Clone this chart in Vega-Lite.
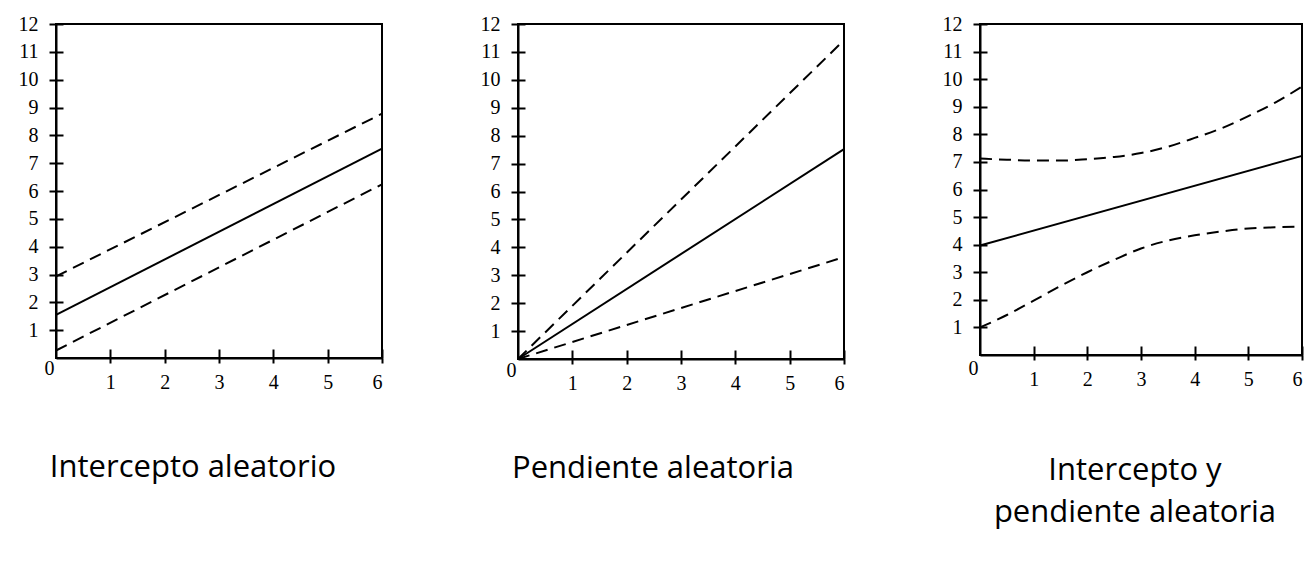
{
  "$schema": "https://vega.github.io/schema/vega-lite/v6.json",
  "padding": {"left": 17, "top": 13, "right": 5, "bottom": 5},
  "background": "white",
  "spacing": 92,
  "config": {
    "view": {"stroke": "black", "strokeWidth": 2},
    "axis": {"labelFont": "Liberation Serif", "labelFontSize": 20, "labelColor": "black", "domainColor": "black", "domainWidth": 2, "tickColor": "black", "tickWidth": 2, "grid": false, "title": null},
    "title": {"font": "Open Sans", "fontSize": 31, "fontWeight": "normal", "color": "black", "orient": "bottom", "anchor": "middle", "frame": "group", "lineHeight": 42, "offset": 61}
  },
  "datasets": {
    "d": [
      {"panel": 1, "serie": "media", "x": 0, "y": 1.55},
      {"panel": 1, "serie": "media", "x": 6, "y": 7.52},
      {"panel": 1, "serie": "sup", "x": 0, "y": 2.93},
      {"panel": 1, "serie": "sup", "x": 6, "y": 8.78},
      {"panel": 1, "serie": "inf", "x": 0, "y": 0.27},
      {"panel": 1, "serie": "inf", "x": 6, "y": 6.24},
      {"panel": 2, "serie": "media", "x": 0, "y": 0},
      {"panel": 2, "serie": "media", "x": 6, "y": 7.52},
      {"panel": 2, "serie": "sup", "x": 0, "y": 0},
      {"panel": 2, "serie": "sup", "x": 6, "y": 11.42},
      {"panel": 2, "serie": "inf", "x": 0, "y": 0},
      {"panel": 2, "serie": "inf", "x": 6, "y": 3.65},
      {"panel": 3, "serie": "media", "x": 0, "y": 3.97},
      {"panel": 3, "serie": "media", "x": 6, "y": 7.22},
      {"panel": 3, "serie": "sup", "x": 0, "y": 7.12},
      {"panel": 3, "serie": "sup", "x": 0.5, "y": 7.08},
      {"panel": 3, "serie": "sup", "x": 1, "y": 7.05},
      {"panel": 3, "serie": "sup", "x": 1.5, "y": 7.05},
      {"panel": 3, "serie": "sup", "x": 2, "y": 7.1},
      {"panel": 3, "serie": "sup", "x": 2.5, "y": 7.18},
      {"panel": 3, "serie": "sup", "x": 3, "y": 7.32},
      {"panel": 3, "serie": "sup", "x": 3.5, "y": 7.55},
      {"panel": 3, "serie": "sup", "x": 4, "y": 7.87},
      {"panel": 3, "serie": "sup", "x": 4.5, "y": 8.22},
      {"panel": 3, "serie": "sup", "x": 5, "y": 8.66},
      {"panel": 3, "serie": "sup", "x": 5.5, "y": 9.15},
      {"panel": 3, "serie": "sup", "x": 6, "y": 9.73},
      {"panel": 3, "serie": "inf", "x": 0, "y": 1.0},
      {"panel": 3, "serie": "inf", "x": 0.5, "y": 1.45},
      {"panel": 3, "serie": "inf", "x": 1, "y": 1.97},
      {"panel": 3, "serie": "inf", "x": 1.5, "y": 2.5},
      {"panel": 3, "serie": "inf", "x": 2, "y": 3.0},
      {"panel": 3, "serie": "inf", "x": 2.5, "y": 3.45},
      {"panel": 3, "serie": "inf", "x": 3, "y": 3.86},
      {"panel": 3, "serie": "inf", "x": 3.5, "y": 4.15},
      {"panel": 3, "serie": "inf", "x": 4, "y": 4.34},
      {"panel": 3, "serie": "inf", "x": 4.5, "y": 4.48},
      {"panel": 3, "serie": "inf", "x": 5, "y": 4.59},
      {"panel": 3, "serie": "inf", "x": 5.5, "y": 4.63},
      {"panel": 3, "serie": "inf", "x": 6, "y": 4.65}
    ]
  },
  "data": {"name": "d"},
  "hconcat": [
    {
      "width": 326, "height": 334,
      "title": {"text": "Intercepto aleatorio", "dx": -26},
      "transform": [{"filter": "datum.panel == 1"}],
      "layer": [
        {
          "transform": [{"filter": "datum.serie == 'media'"}],
          "mark": {"type": "line", "color": "black", "strokeWidth": 2},
          "encoding": {
            "x": {"field": "x", "type": "quantitative", "scale": {"domain": [0, 6], "nice": false}, "axis": {"orient": "bottom", "values": [1, 2, 3, 4, 5, 6], "tickSize": 5, "labelPadding": 9, "labelBaseline": "top"}},
            "y": {"field": "y", "type": "quantitative", "scale": {"domain": [0, 12], "nice": false}, "axis": {"orient": "left", "values": [0, 1, 2, 3, 4, 5, 6, 7, 8, 9, 10, 11, 12], "tickSize": 7, "labelPadding": {"condition": {"test": "datum.value == 0", "value": -5}, "value": 11}, "labelOffset": {"condition": {"test": "datum.value == 0", "value": 10}, "value": 0}, "tickOpacity": {"condition": {"test": "datum.value == 0", "value": 0}, "value": 1}}}
          }
        },
        {
          "transform": [{"filter": "datum.serie != 'media'"}],
          "mark": {"type": "line", "color": "black", "strokeWidth": 2, "strokeDash": [12, 7], "interpolate": "monotone"},
          "encoding": {
            "detail": {"field": "serie"},
            "x": {"field": "x", "type": "quantitative", "scale": {"domain": [0, 6], "nice": false}, "axis": {"orient": "bottom", "values": [1, 2, 3, 4, 5, 6], "tickSize": -9, "labels": false, "domain": false}},
            "y": {"field": "y", "type": "quantitative", "scale": {"domain": [0, 12], "nice": false}, "axis": {"orient": "left", "values": [1, 2, 3, 4, 5, 6, 7, 8, 9, 10, 11, 12], "tickSize": -7, "labels": false, "domain": false}}
          }
        }
      ],
      "resolve": {"axis": {"x": "independent", "y": "independent"}}
    },
    {
      "width": 326, "height": 335,
      "title": {"text": "Pendiente aleatoria", "dx": -28},
      "transform": [{"filter": "datum.panel == 2"}],
      "layer": [
        {
          "transform": [{"filter": "datum.serie == 'media'"}],
          "mark": {"type": "line", "color": "black", "strokeWidth": 2},
          "encoding": {
            "x": {"field": "x", "type": "quantitative", "scale": {"domain": [0, 6], "nice": false}, "axis": {"orient": "bottom", "values": [1, 2, 3, 4, 5, 6], "tickSize": 5, "labelPadding": 9, "labelBaseline": "top"}},
            "y": {"field": "y", "type": "quantitative", "scale": {"domain": [0, 12], "nice": false}, "axis": {"orient": "left", "values": [0, 1, 2, 3, 4, 5, 6, 7, 8, 9, 10, 11, 12], "tickSize": 7, "labelPadding": {"condition": {"test": "datum.value == 0", "value": -5}, "value": 11}, "labelOffset": {"condition": {"test": "datum.value == 0", "value": 11}, "value": 0}, "tickOpacity": {"condition": {"test": "datum.value == 0", "value": 0}, "value": 1}}}
          }
        },
        {
          "transform": [{"filter": "datum.serie != 'media'"}],
          "mark": {"type": "line", "color": "black", "strokeWidth": 2, "strokeDash": [12, 7], "interpolate": "monotone"},
          "encoding": {
            "detail": {"field": "serie"},
            "x": {"field": "x", "type": "quantitative", "scale": {"domain": [0, 6], "nice": false}, "axis": {"orient": "bottom", "values": [1, 2, 3, 4, 5, 6], "tickSize": -9, "labels": false, "domain": false}},
            "y": {"field": "y", "type": "quantitative", "scale": {"domain": [0, 12], "nice": false}, "axis": {"orient": "left", "values": [1, 2, 3, 4, 5, 6, 7, 8, 9, 10, 11, 12], "tickSize": -7, "labels": false, "domain": false}}
          }
        }
      ],
      "resolve": {"axis": {"x": "independent", "y": "independent"}}
    },
    {
      "width": 322, "height": 331,
      "title": {"text": ["Intercepto y", "pendiente aleatoria"], "dx": -6, "offset": 67},
      "transform": [{"filter": "datum.panel == 3"}],
      "layer": [
        {
          "transform": [{"filter": "datum.serie == 'media'"}],
          "mark": {"type": "line", "color": "black", "strokeWidth": 2},
          "encoding": {
            "x": {"field": "x", "type": "quantitative", "scale": {"domain": [0, 6], "nice": false}, "axis": {"orient": "bottom", "values": [1, 2, 3, 4, 5, 6], "tickSize": 5, "labelPadding": 9, "labelBaseline": "top"}},
            "y": {"field": "y", "type": "quantitative", "scale": {"domain": [0, 12], "nice": false}, "axis": {"orient": "left", "values": [0, 1, 2, 3, 4, 5, 6, 7, 8, 9, 10, 11, 12], "tickSize": 7, "labelPadding": {"condition": {"test": "datum.value == 0", "value": -5}, "value": 11}, "labelOffset": {"condition": {"test": "datum.value == 0", "value": 13}, "value": 0}, "tickOpacity": {"condition": {"test": "datum.value == 0", "value": 0}, "value": 1}}}
          }
        },
        {
          "transform": [{"filter": "datum.serie != 'media'"}],
          "mark": {"type": "line", "color": "black", "strokeWidth": 2, "strokeDash": [12, 7], "interpolate": "monotone"},
          "encoding": {
            "detail": {"field": "serie"},
            "x": {"field": "x", "type": "quantitative", "scale": {"domain": [0, 6], "nice": false}, "axis": {"orient": "bottom", "values": [1, 2, 3, 4, 5, 6], "tickSize": -9, "labels": false, "domain": false}},
            "y": {"field": "y", "type": "quantitative", "scale": {"domain": [0, 12], "nice": false}, "axis": {"orient": "left", "values": [1, 2, 3, 4, 5, 6, 7, 8, 9, 10, 11, 12], "tickSize": -7, "labels": false, "domain": false}}
          }
        }
      ],
      "resolve": {"axis": {"x": "independent", "y": "independent"}}
    }
  ]
}
